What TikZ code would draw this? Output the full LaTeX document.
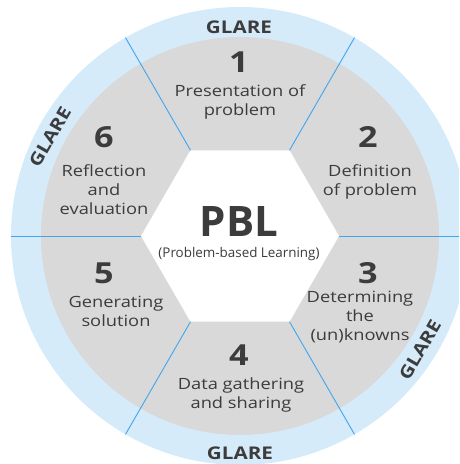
\documentclass[tikz,border=0pt]{standalone}
\usepackage{fontspec}
\setmainfont{Open Sans}
\newfontfamily\widesans[FakeStretch=1.18]{Open Sans}
\usetikzlibrary{calc}
\definecolor{ringblue}{HTML}{D6EBFA}
\definecolor{segmentgray}{HTML}{D9D9D9}
\definecolor{divider}{HTML}{3FA6EE}
\definecolor{ink}{HTML}{3C3C3C}
\begin{document}
\begin{tikzpicture}[x=1pt,y=-1pt,
  steptext/.style={font=\widesans\fontsize{15.5}{19}\selectfont, align=center, text=ink, inner sep=0pt},
  stepnum/.style={font=\widesans\bfseries\fontsize{29}{29}\selectfont, text=ink, inner sep=0pt},
  ringtext/.style={font=\widesans\bfseries\fontsize{17.5}{18}\selectfont, text=ink, inner sep=0pt},
  dividerline/.style={draw=divider, line width=0.9pt}]
\useasboundingbox (0,0) rectangle (459,464);
\clip (0,0) rectangle (459,464);
\coordinate (C) at (240,236);
% rings
\fill[ringblue] (C) circle[radius=229];
\fill[segmentgray] (C) circle[radius=199];
% hexagon corners and outer ends of the dividers
\foreach \a in {0,60,...,300}{
  \coordinate (h\a) at ($(C)+(\a:99)$);
  \coordinate (o\a) at ($(C)+(\a:229)$);
}
\fill[white] (h0) -- (h60) -- (h120) -- (h180) -- (h240) -- (h300) -- cycle;
\foreach \a in {0,60,...,300}{
  \draw[dividerline] (h\a) -- (o\a);
}
% centre
\node[font=\bfseries\fontsize{42}{42}\selectfont, text=ink, inner sep=0pt] (pbl) at (239,222) {PBL};
\node[font=\fontsize{13.4}{15}\selectfont, text=ink, inner sep=0pt] (pblsub) at (239,254) {(Problem-based Learning)};
% steps
\node[stepnum] (n1) at (239,62) {1};
\node[steptext] (t1) at (240,102) {Presentation of\\problem};
\node[stepnum] (n2) at (368,137) {2};
\node[steptext] (t2) at (370,182) {Definition\\of problem};
\node[stepnum] (n3) at (368,273) {3};
\node[steptext] (t3) at (360,317) {Determining\\the\\(un)knowns};
\node[stepnum] (n4) at (239,355) {4};
\node[steptext] (t4) at (241,395) {Data gathering\\and sharing};
\node[stepnum] (n5) at (104,273) {5};
\begin{scope}
  \clip (30,280) rectangle (200,327.5);
  \node[steptext] (t5) at (116,311) {Generating\\solution};
\end{scope}
\node[stepnum] (n6) at (104,137) {6};
\node[steptext] (t6) at (104,190) {Reflection\\and\\evaluation};
% ring labels
\node[ringtext] (g1) at (239,27) {GLARE};
\node[ringtext, rotate=60] (g2) at (50,137) {GLARE};
\node[ringtext] (g3) at (240,453) {GLARE};
\node[ringtext, rotate=60] (g4) at (420,350) {GLARE};
\end{tikzpicture}
\end{document}
